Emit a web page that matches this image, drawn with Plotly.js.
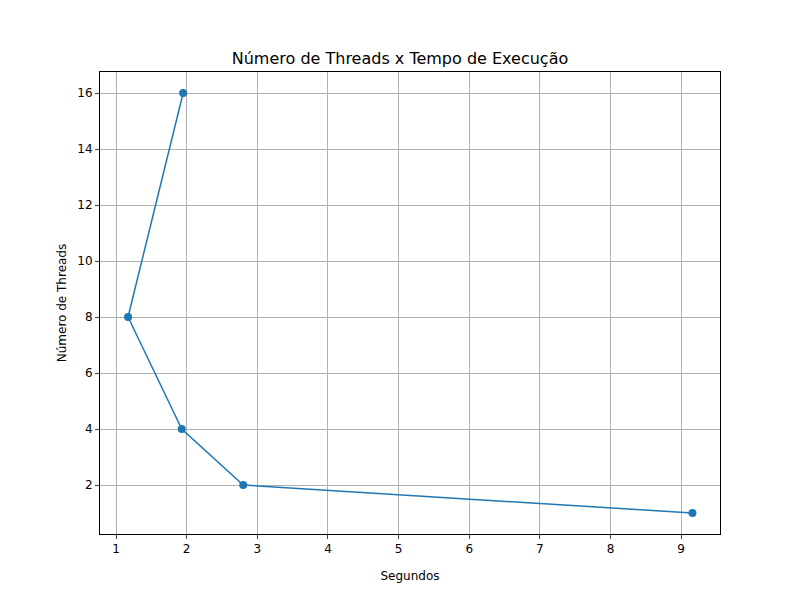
<!DOCTYPE html>
<html><head><meta charset="utf-8">
<script src="https://cdn.plot.ly/plotly-3.0.1.min.js"></script>
<style>body{margin:0}</style></head><body>
<div id="c" style="width:800px;height:600px"></div>
<script>
const seconds = [1.95, 1.17, 1.93, 2.80, 9.16];
const threads = [16, 8, 4, 2, 1];
const xTicks = [1,2,3,4,5,6,7,8,9];
const yTicks = [2,4,6,8,10,12,14,16];
const font = {family:'DejaVu Sans', size:12, color:'#000'};
Plotly.newPlot('c', [{
  x: seconds, y: threads, mode:'lines+markers', type:'scatter',
  line:{color:'#1f77b4', width:1.5}, marker:{color:'#1f77b4', size:8}
}], {
  width:800, height:600, font:font, showlegend:false,
  paper_bgcolor:'#fff', plot_bgcolor:'#fff',
  margin:{l:100, r:80, t:72, b:66},
  title:{text:'Número de Threads x Tempo de Execução', font:{family:'DejaVu Sans', size:16, color:'#000'}, x:0.5, xanchor:'center', y:1-58/600, yanchor:'middle'},
  xaxis:{range:[0.773, 9.55], tickvals:xTicks, showgrid:true, gridcolor:'#b0b0b0', gridwidth:1,
    showline:true, mirror:true, linecolor:'#000', linewidth:1, ticks:'outside', ticklen:4, zeroline:false,
    title:{text:'Segundos', font:font}},
  yaxis:{range:[0.25, 16.75], tickvals:yTicks, showgrid:true, gridcolor:'#b0b0b0', gridwidth:1,
    showline:true, mirror:true, linecolor:'#000', linewidth:1, ticks:'outside', ticklen:4, zeroline:false,
    title:{text:'Número de Threads', font:font}}
}, {displayModeBar:false});
</script></body></html>
